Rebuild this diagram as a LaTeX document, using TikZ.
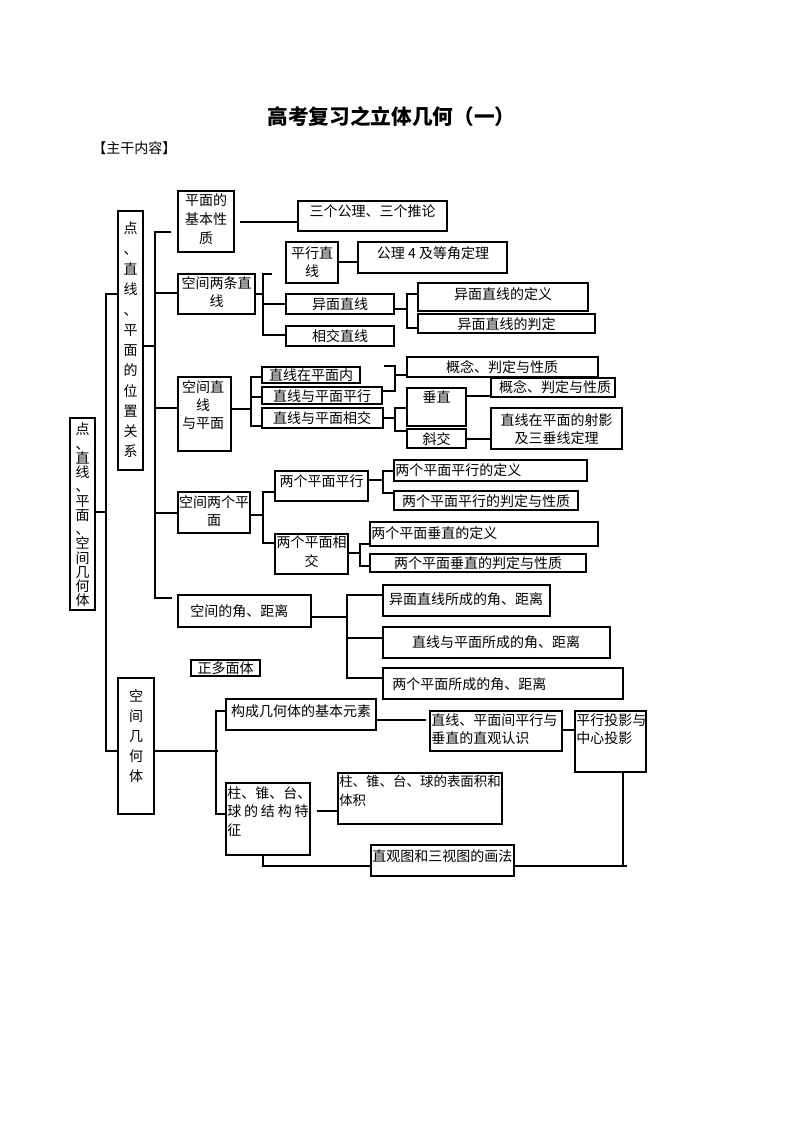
\documentclass[tikz,border=0pt]{standalone}
\usepackage{fontspec}
\usepackage{tikz}
\usetikzlibrary{positioning, calc, fit}
\newfontfamily\cjk{Noto Sans CJK SC}

\begin{document}
\begin{tikzpicture}[x=0.75pt, y=-0.75pt,
    frame/.style={draw, line width=0.8pt, inner sep=0pt},
    lbl/.style={inner sep=0pt, align=center, font=\cjk\fontsize{10.5}{14}\selectfont},
    lbll/.style={lbl, align=left},
    link/.style={line width=0.8pt}]
  \useasboundingbox (0,0) rectangle (793,1122);
  \fill[white] (0,0) rectangle (793,1122);

  % heading
  \node[inner sep=0pt, font=\cjk\bfseries\fontsize{15.5}{18}\selectfont] (title) at (391.5,117) {高考复习之立体几何（一）};
  \node[lbl, anchor=west] (main) at (92,148) {【主干内容】};

  % vertical boxes
  \node[frame, fit={(70,418) (95,610)}] (root) {};
  \node[lbl, font={\cjk\fontsize{10.5}{10.7}\selectfont\lineskiplimit=-6pt}] (rootT) at (82.5,515) {点\\、\\直\\线\\、\\平\\面\\、\\空\\间\\几\\何\\体};
  \node[frame, fit={(118,211) (143,470)}] (wzgx) {};
  \node[lbl, font=\cjk\fontsize{10.5}{15.2}\selectfont] (wzgxT) at (130.5,340) {点\\、\\直\\线\\、\\平\\面\\的\\位\\置\\关\\系};
  \node[frame, fit={(118,678) (154,814)}] (kjjht) {};
  \node[lbl, font=\cjk\fontsize{10.5}{15}\selectfont] (kjjhtT) at (136,736) {空\\间\\几\\何\\体};

  % plane, lines
  \node[frame, fit={(178,191) (234,252)}] (jbxz) {};
  \node[lbl] (jbxzT) at (206,219) {平面的\\基本性\\质};
  \node[frame, fit={(298,201) (447,231)}] (gl) {};
  \node[lbl] (glT) at (372.5,211) {三个公理、三个推论};
  \node[frame, fit={(178,274) (255,314)}] (lt) {};
  \node[lbl] (ltT) at (216.5,292) {空间两条直\\线};
  \node[frame, fit={(286,242) (338,283)}] (pxzx) {};
  \node[lbl] (pxzxT) at (312,262) {平行直\\线};
  \node[frame, fit={(358,242) (507,273)}] (gl4) {};
  \node[lbl] (gl4T) at (433,253) {公理 4 及等角定理};
  \node[frame, fit={(286,294) (394,314)}] (ymzx) {};
  \node[lbl] (ymzxT) at (340,304) {异面直线};
  \node[frame, fit={(286,326) (394,346)}] (xjzx) {};
  \node[lbl] (xjzxT) at (340,336) {相交直线};
  \node[frame, fit={(418,283) (588,311)}] (ymdy) {};
  \node[lbl] (ymdyT) at (503,294) {异面直线的定义};
  \node[frame, fit={(418,314) (595,333)}] (ympd) {};
  \node[lbl] (ympdT) at (506.5,324) {异面直线的判定};

  % line and plane
  \node[frame, fit={(178,377) (231,451)}] (zxpm) {};
  \node[lbl, font=\cjk\fontsize{10.5}{13.5}\selectfont] (zxpmT) at (203,405) {空间直\\线\\与平面};
  \node[frame, fit={(262,367) (360,383)}] (zmn) {};
  \node[lbl] (zmnT) at (311,375) {直线在平面内};
  \node[frame, fit={(262,387) (382,404)}] (zmpx) {};
  \node[lbl] (zmpxT) at (322,396) {直线与平面平行};
  \node[frame, fit={(262,408) (383,428)}] (zmxj) {};
  \node[lbl] (zmxjT) at (322,418) {直线与平面相交};
  \node[frame, fit={(407,357) (598,377)}] (gnA) {};
  \node[lbl] (gnAT) at (502,367) {概念、判定与性质};
  \node[frame, fit={(491,378) (615,397)}] (gnB) {};
  \node[lbl] (gnBT) at (555,387) {概念、判定与性质};
  \node[frame, fit={(407,388) (466,426)}] (cz) {};
  \node[lbl] (czT) at (436.5,397) {垂直};
  \node[frame, fit={(407,429) (466,448)}] (xj) {};
  \node[lbl] (xjT) at (436.5,439) {斜交};
  \node[frame, fit={(491,408) (622,449)}] (sy) {};
  \node[lbl, font=\cjk\fontsize{10.5}{13.5}\selectfont] (syT) at (556.5,429) {直线在平面的射影\\及三垂线定理};

  % two planes
  \node[frame, fit={(178,492) (250,533)}] (lpm) {};
  \node[lbl] (lpmT) at (214,511) {空间两个平\\面};
  \node[frame, fit={(275,471) (368,501)}] (pmpx) {};
  \node[lbl] (pmpxT) at (321.5,481) {两个平面平行};
  \node[frame, fit={(394,460) (587,481)}] (pxdy) {};
  \node[lbl, anchor=west] (pxdyT) at (395,470) {两个平面平行的定义};
  \node[frame, fit={(394,491) (578,510)}] (pxpd) {};
  \node[lbl] (pxpdT) at (486,501) {两个平面平行的判定与性质};
  \node[frame, fit={(275,534) (348,574)}] (pmxj) {};
  \node[lbl] (pmxjT) at (311.5,552) {两个平面相\\交};
  \node[frame, fit={(370,522) (598,546)}] (czdy) {};
  \node[lbl, anchor=west] (czdyT) at (371,533) {两个平面垂直的定义};
  \node[frame, fit={(370,554) (586,572)}] (czpd) {};
  \node[lbl] (czpdT) at (478,563) {两个平面垂直的判定与性质};

  % angles and distances
  \node[frame, fit={(178,595) (311,627)}] (jjl) {};
  \node[lbl, anchor=west] (jjlT) at (190,611) {空间的角、距离};
  \node[frame, fit={(383,585) (550,616)}] (jlA) {};
  \node[lbl] (jlAT) at (466,599) {异面直线所成的角、距离};
  \node[frame, fit={(383,627) (610,658)}] (jlB) {};
  \node[lbl] (jlBT) at (496,642) {直线与平面所成的角、距离};
  \node[frame, fit={(383,668) (623,699)}] (jlC) {};
  \node[lbl, anchor=west] (jlCT) at (392,684) {两个平面所成的角、距离};
  \node[frame, fit={(191,660) (260,676)}] (zdmt) {};
  \node[lbl] (zdmtT) at (225.5,668) {正多面体};

  % solids
  \node[frame, fit={(226,699) (376,730)}] (jbys) {};
  \node[lbl] (jbysT) at (301,711) {构成几何体的基本元素};
  \node[frame, fit={(430,711) (562,751)}] (zgrs) {};
  \node[lbll, anchor=north west] (zgrsT) at (431,713) {直线、平面间平行与\\垂直的直观认识};
  \node[frame, fit={(575,711) (646,772)}] (tyty) {};
  \node[lbll, anchor=north west] (tytyT) at (576,713) {平行投影与\\中心投影};
  \node[frame, fit={(226,783) (310,855)}] (jgtz) {};
  \node[lbll, anchor=north west] (jgtzT) at (227,786) {柱、锥、台、\\\makebox[61pt]{球\hfill 的\hfill 结\hfill 构\hfill 特}\\征};
  \node[frame, fit={(338,773) (502,824)}] (bmj) {};
  \node[lbll, anchor=north west, font=\cjk\fontsize{10.1}{14}\selectfont] (bmjT) at (339,775) {柱、锥、台、球的表面积和\\体积};
  \node[frame, fit={(371,845) (514,876)}] (hf) {};
  \node[lbll, anchor=west] (hfT) at (372,856) {直观图和三视图的画法};

  % connectors
  \draw[link] (root.east |- 0,512) -- (106,512);
  \draw[link] (wzgx.west |- 0,294) -- (106,294) -- (106,751) -- (kjjht.west |- 0,751);
  \draw[link] (wzgx.east |- 0,346) -- (155,346);
  \draw[link] ($(jbxz.west |- 0,232)+(-6,0)$) -- (155,232) -- (155,598) -- ($(jjl.west |- 0,598)+(-5,0)$);
  \draw[link] (155,293) -- (lt.west |- 0,293);
  \draw[link] (155,408) -- (zxpm.west |- 0,408);
  \draw[link] (155,513) -- (lpm.west |- 0,513);
  \draw[link] ($(jbxz.east |- 0,222)+(5,0)$) -- (gl.west |- 0,222);

  \draw[link] (lt.east |- 0,294) -- (263,294);
  \draw[link] ($(pxzx.west |- 0,274)+(-13,0)$) -- (263,274) -- (263,335) -- (xjzx.west |- 0,335);
  \draw[link] (263,304) -- (ymzx.west |- 0,304);
  \draw[link] (pxzx.east |- 0,262) -- (gl4.west |- 0,262);
  \draw[link] (ymzx.east |- 0,309) -- (407,309);
  \draw[link] (ymdy.west |- 0,294) -- (407,294) -- (407,328) -- (ympd.west |- 0,328);

  \draw[link] (zxpm.east |- 0,409) -- (251,409);
  \draw[link] (zmn.west |- 0,377) -- (251,377) -- (251,426) -- (zmxj.west |- 0,426);
  \draw[link] (251,397) -- (zmpx.west |- 0,397);
  \draw[link] ($(zmn.east |- 0,366)+(23,0)$) -- (395,366) -- (395,391) -- (zmpx.east |- 0,391);
  \draw[link] (395,375) -- (gnA.west |- 0,375);
  \draw[link] (zmxj.east |- 0,418) -- (395,418);
  \draw[link] (cz.west |- 0,408) -- (395,408) -- (395,431) -- (xj.west |- 0,431);
  \draw[link] (cz.east |- 0,396) -- (gnB.west |- 0,396);
  \draw[link] (xj.east |- 0,439) -- (sy.west |- 0,439);

  \draw[link] (lpm.east |- 0,515) -- (263,515);
  \draw[link] (pmpx.west |- 0,492) -- (263,492) -- (263,543) -- (pmxj.west |- 0,543);
  \draw[link] (pmpx.east |- 0,480) -- (383,480);
  \draw[link] (pxdy.west |- 0,471) -- (383,471) -- (383,493) -- (pxpd.west |- 0,493);
  \draw[link] (pmxj.east |- 0,553) -- (360,553);
  \draw[link] (czdy.west |- 0,544) -- (360,544) -- (360,566) -- (czpd.west |- 0,566);

  \draw[link] (jjl.east |- 0,617) -- (347,617);
  \draw[link] (jlA.west |- 0,595) -- (347,595) -- (347,678) -- (jlC.west |- 0,678);
  \draw[link] (347,638) -- (jlB.west |- 0,638);

  \draw[link] (kjjht.east |- 0,751) -- (218,751);
  \draw[link] (jbys.west |- 0,711) -- (216,711) -- (216,814) -- (jgtz.west |- 0,814);
  \draw[link] (jbys.east |- 0,720) -- ($(zgrs.west |- 0,720)+(-3,0)$);
  \draw[link] (zgrs.east |- 0,730) -- (tyty.west |- 0,730);
  \draw[link] (623,0 |- tyty.south) -- (623,866);
  \draw[link] (hf.east |- 0,866) -- (627,866);
  \draw[link] ($(jgtz.east |- 0,811)+(6,0)$) -- (bmj.west |- 0,811);
  \draw[link] (263,0 |- jgtz.south) -- (263,866) -- (hf.west |- 0,866);
\end{tikzpicture}
\end{document}
